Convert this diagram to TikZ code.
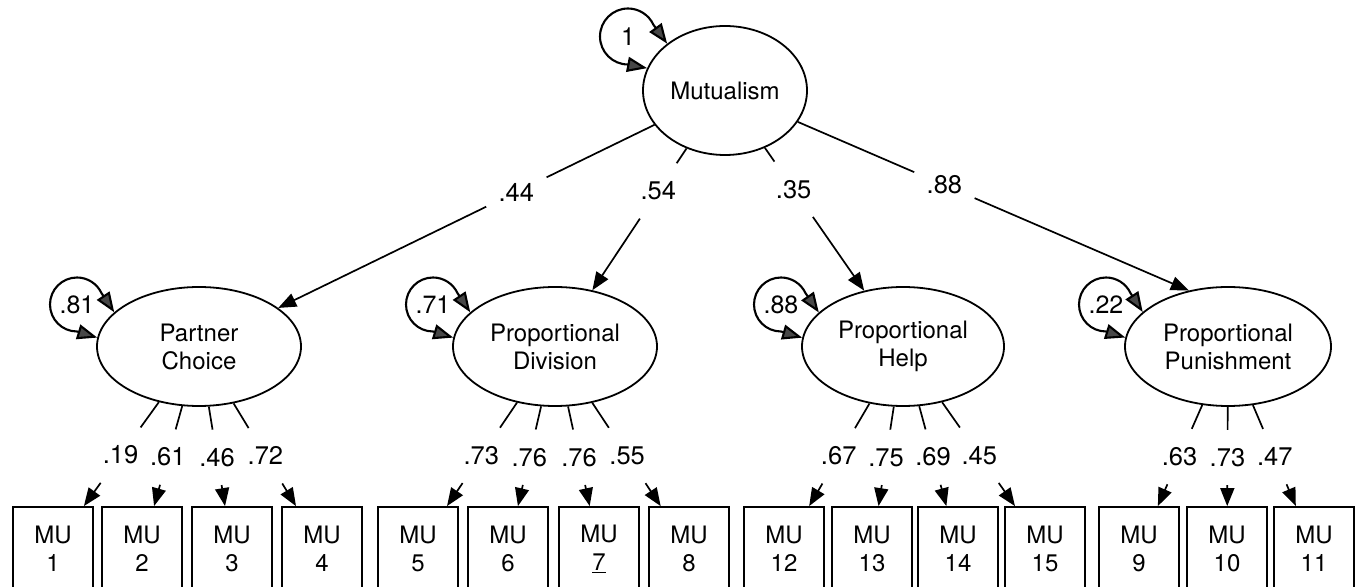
\documentclass[tikz,border=0pt]{standalone}
\usepackage{fontspec}
\setmainfont{TeX Gyre Heros}
\usetikzlibrary{shapes.geometric,arrows.meta,calc}
\newcommand{\semlink}[4]{%
  \path (#1) -- (#2) node[pathlbl, pos=#3] (tmplbl) {#4};
  \draw[conn] (#1) -- (tmplbl);
  \draw[arr] (tmplbl) -- (#2);
}
\newcommand{\varloop}[6]{%
  \draw[loopline] (#1.#4) -- ($(#2)+(0,-#3)$) arc[start angle=270, end angle=25, radius=#3] -- (#1.#5);
  \node[looplbl] at (#2) {#6};
}
\begin{document}
\begin{tikzpicture}[x=1pt,y=1pt,
  every node/.style={font=\fontsize{24}{28}\selectfont},
  latent/.style={ellipse, draw, line width=1.8pt, inner sep=0pt, minimum width=204pt, minimum height=119pt, align=center},
  obs/.style={rectangle, draw, line width=1.8pt, minimum width=80pt, minimum height=84pt, inner sep=0pt, align=center},
  pathlbl/.style={minimum width=60pt, minimum height=55pt, inner sep=0pt, font=\fontsize{25.5}{28}\selectfont},
  looplbl/.style={inner sep=0pt, font=\fontsize{25}{28}\selectfont},
  conn/.style={line width=1.7pt},
  arr/.style={conn, -{Triangle[length=18pt,width=14pt]}},
  loopline/.style={line width=2.1pt, {Triangle[length=20pt,width=15pt,fill=black!72]}-{Triangle[length=20pt,width=15pt,fill=black!72]}},
]
\useasboundingbox (0,0) rectangle (1359,586);

% latent variables
\node[latent, minimum width=164pt, minimum height=129pt] (mut) at (725,495.5) {Mutualism};
\node[latent] (pc) at (199,239.5) {Partner\\Choice};
\node[latent] (pd) at (555,239.5) {Proportional\\Division};
\node[latent, minimum width=202pt] (ph) at (903,239.5) {Proportional\\Help};
\node[latent, minimum width=206pt] (pp) at (1228,239.5) {Proportional\\Punishment};

% observed variables
\node[obs] (mu1) at (53,37) {MU\\1};
\node[obs] (mu2) at (142,37) {MU\\2};
\node[obs] (mu3) at (232,37) {MU\\3};
\node[obs] (mu4) at (322,37) {MU\\4};
\node[obs] (mu5) at (418,37) {MU\\5};
\node[obs] (mu6) at (508,37) {MU\\6};
\node[obs] (mu7) at (599,37) {MU\\\underline{7}};
\node[obs] (mu8) at (689,37) {MU\\8};
\node[obs] (mu12) at (784,37) {MU\\12};
\node[obs] (mu13) at (872,37) {MU\\13};
\node[obs] (mu14) at (958,37) {MU\\14};
\node[obs] (mu15) at (1045,37) {MU\\15};
\node[obs] (mu9) at (1139,37) {MU\\9};
\node[obs] (mu10) at (1227,37) {MU\\10};
\node[obs] (mu11) at (1314,37) {MU\\11};

% variance loops
\varloop{mut}{628,549.5}{28}{164}{141}{1}
\varloop{pc}{77,281.5}{27}{175}{158}{.81}
\varloop{pd}{433,281.5}{27}{175}{158}{.71}
\varloop{ph}{781,281.5}{27}{175}{158}{.88}
\varloop{pp}{1106,281.5}{27}{175}{158}{.22}

% structural paths
\semlink{mut}{pc}{0.367}{.44}
\semlink{mut}{pd}{0.30}{.54}
\semlink{mut}{ph}{0.29}{.35}
\semlink{mut}{pp.125}{0.375}{.88}

% loadings
\semlink{pc}{mu1}{0.51}{.19}
\semlink{pc}{mu2}{0.51}{.61}
\semlink{pc}{mu3}{0.51}{.46}
\semlink{pc}{mu4}{0.51}{.72}
\semlink{pd}{mu5}{0.51}{.73}
\semlink{pd}{mu6}{0.51}{.76}
\semlink{pd}{mu7}{0.51}{.76}
\semlink{pd}{mu8}{0.51}{.55}
\semlink{ph}{mu12}{0.51}{.67}
\semlink{ph}{mu13}{0.51}{.75}
\semlink{ph}{mu14}{0.51}{.69}
\semlink{ph}{mu15}{0.51}{.45}
\semlink{pp}{mu9}{0.51}{.63}
\semlink{pp}{mu10}{0.51}{.73}
\semlink{pp}{mu11}{0.51}{.47}
\end{tikzpicture}
\end{document}
